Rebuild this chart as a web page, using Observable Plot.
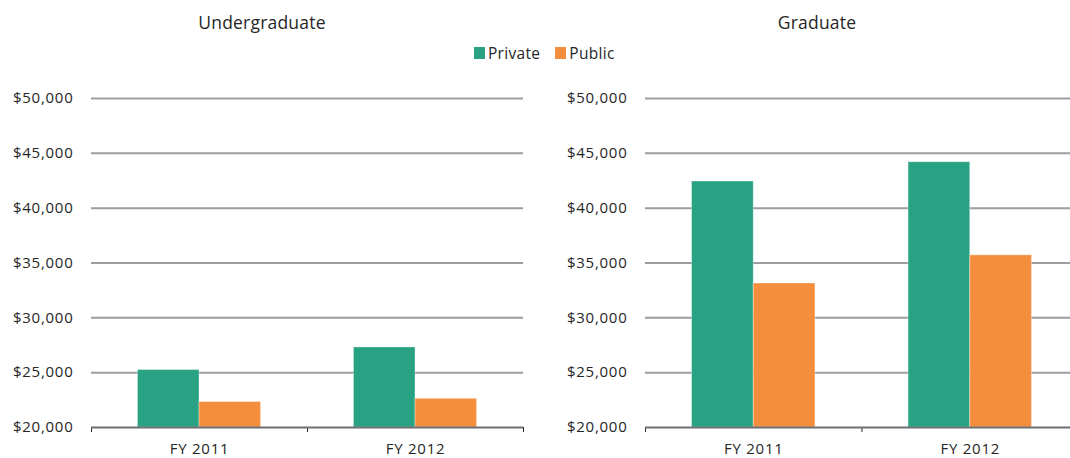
<!DOCTYPE html>
<html>
<head>
<meta charset="utf-8">
<script src="https://cdn.jsdelivr.net/npm/d3@7"></script>
<script src="https://cdn.jsdelivr.net/npm/@observablehq/plot@0.6"></script>
<style>
  html, body { margin: 0; padding: 0; background: #fff; }
  body { width: 1070px; height: 458px; overflow: hidden; position: relative; font-family: "Open Sans", sans-serif; color: #262626; }
  .title { position: absolute; top: 11px; font-size: 17.5px; line-height: 22px; text-align: center; width: 300px; letter-spacing: 0.2px; }
  .legend { position: absolute; top: 44px; left: 474px; display: flex; align-items: center; font-size: 15.5px; line-height: 18px; letter-spacing: 0.3px; }
  .sw { width: 11px; height: 12px; display: inline-block; margin-right: 3px; }
  .item { display: flex; align-items: center; margin-right: 15px; }
  .panel { position: absolute; top: 70px; height: 388px; }
  .panel svg { max-width: none !important; }
</style>
</head>
<body>
<div class="title" style="left:112px">Undergraduate</div>
<div class="title" style="left:667px">Graduate</div>
<div class="legend" id="legend"></div>
<div class="panel" id="left" style="left:0px; width:535px"></div>
<div class="panel" id="right" style="left:535px; width:545px"></div>
<script>
const categories = ["FY 2011", "FY 2012"];
const series = ["Private", "Public"];
const colors = ["#29a284", "#f58e3c"];
const yTicks = [20000, 25000, 30000, 35000, 40000, 45000, 50000];

const undergradPrivate = [25240, 27300];
const undergradPublic = [22320, 22620];
const gradPrivate = [42430, 44190];
const gradPublic = [33130, 35700];

// legend
const legend = document.getElementById("legend");
series.forEach((s, j) => {
  const it = document.createElement("div");
  it.className = "item";
  it.innerHTML = `<span class="sw" style="background:${colors[j]}"></span><span>${s}</span>`;
  legend.appendChild(it);
});

const barW = 0.285;

function rows(privateVals, publicVals) {
  const vals = {Private: privateVals, Public: publicVals};
  return categories.flatMap((c, i) => series.map((s, j) => ({cat: c, i, series: s, j, value: vals[s][i]})));
}

function panel(data, width, marginLeft, marginRight) {
  return Plot.plot({
    width,
    height: 388,
    marginTop: 28,
    marginBottom: 31,
    marginLeft,
    marginRight,
    style: {fontFamily: "Open Sans, sans-serif", fontSize: "15px", letterSpacing: "0.75px", color: "#262626", background: "transparent", maxWidth: "none"},
    x: {domain: [0, categories.length], ticks: d3.range(categories.length + 1), tickFormat: () => "", tickSize: 5, label: null},
    y: {domain: [20000, 50000], ticks: yTicks, tickFormat: d3.format("$,"), tickSize: 0, tickPadding: 18, label: null},
    color: {domain: series, range: colors},
    marks: [
      Plot.ruleY(yTicks.filter(t => t > 20000), {stroke: "#9a9da1", strokeWidth: 2}),
      Plot.rectY(data, {
        x1: d => d.i + 0.5 + (d.j - 1) * barW,
        x2: d => d.i + 0.5 + d.j * barW,
        y1: 20000,
        y2: "value",
        fill: "series",
        stroke: "#ffffff",
        strokeOpacity: 0.35,
        strokeWidth: 1
      }),
      Plot.ruleY([20000], {stroke: "#6d6f72", strokeWidth: 2}),
      Plot.text(categories, {x: (d, i) => i + 0.5, y: 20000, dy: 22, text: d => d, fill: "#262626", fontSize: 15})
    ]
  });
}

document.getElementById("left").appendChild(panel(rows(undergradPrivate, undergradPublic), 535, 91, 12));
document.getElementById("right").appendChild(panel(rows(gradPrivate, gradPublic), 545, 110, 2));
</script>
</body>
</html>
